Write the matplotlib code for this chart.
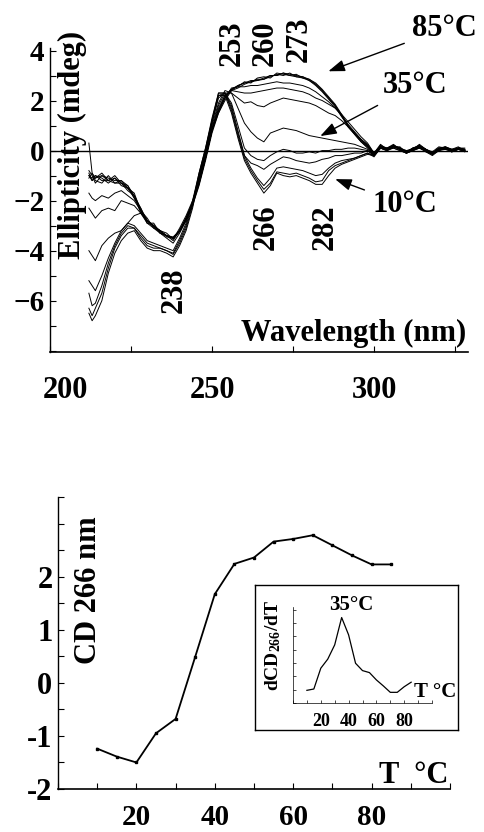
import matplotlib
matplotlib.use("Agg")
import matplotlib.pyplot as plt
from matplotlib.ticker import MultipleLocator
from matplotlib.transforms import ScaledTranslation

plt.rcParams['font.family'] = ['Liberation Serif', 'DejaVu Serif']
plt.rcParams['font.weight'] = 'bold'
plt.rcParams['mathtext.fontset'] = 'custom'
plt.rcParams['mathtext.rm'] = 'Liberation Serif:bold'
plt.rcParams['mathtext.bf'] = 'Liberation Serif:bold'
plt.rcParams['mathtext.default'] = 'bf'

# CD spectra, wavelength grid (nm)
wl = [212, 213, 214, 216, 218, 220, 222, 224, 226, 228,
      230, 232, 234, 236, 238, 240, 242, 244, 246, 248,
      250, 252, 254, 256, 258, 260, 262, 264, 266, 268,
      270, 272, 274, 276, 278, 280, 282, 284, 286, 288,
      290, 292, 294, 296, 298, 300, 302, 304, 306, 308,
      310, 312, 314, 316, 318, 320, 322, 324, 326, 328]

cd85 = [0.3, -0.9, -1.1, -0.9, -1.2, -1.0, -1.3, -1.4, -1.8, -2.3,
        -2.8, -3.0, -3.2, -3.4, -3.5, -3.2, -2.7, -2.1, -1.3, -0.3,
        0.8, 1.5, 2.0, 2.4, 2.6, 2.7, 2.8, 2.8, 2.9, 3.0,
        3.0, 3.1, 3.05, 3.0, 2.95, 2.85, 2.65, 2.4, 2.1, 1.8,
        1.4, 0.95, 0.65, 0.35, 0.15, -0.15, 0.2, 0.05, 0.2, 0.1,
        -0.05, 0.1, 0.2, 0.0, -0.1, 0.1, 0.15, 0.0, 0.1, 0.05]
cd75 = [-0.8, -1.0, -1.3, -1.0, -1.1, -1.2, -1.2, -1.5, -1.7, -2.4,
        -2.7, -3.1, -3.2, -3.3, -3.55, -3.1, -2.6, -2.0, -1.2, -0.2,
        0.9, 1.6, 2.1, 2.4, 2.5, 2.65, 2.75, 2.85, 2.85, 2.95,
        3.05, 3.0, 3.1, 2.95, 2.9, 2.8, 2.6, 2.35, 2.05, 1.75,
        1.35, 1.0, 0.7, 0.4, 0.2, -0.2, 0.15, 0.1, 0.25, 0.05,
        0.0, 0.05, 0.25, 0.05, -0.15, 0.05, 0.1, 0.05, 0.15, 0.0]
cd65 = [-1.0, -1.2, -1.0, -1.1, -1.3, -1.1, -1.4, -1.5, -1.9, -2.3,
        -2.9, -2.9, -3.3, -3.4, -3.45, -3.2, -2.8, -2.2, -1.4, -0.4,
        0.7, 1.5, 2.1, 2.5, 2.55, 2.75, 2.7, 2.9, 2.95, 2.9,
        3.1, 3.05, 3.0, 3.05, 2.9, 2.85, 2.7, 2.45, 2.15, 1.85,
        1.45, 1.0, 0.7, 0.4, 0.15, -0.1, 0.25, 0.05, 0.15, 0.15,
        -0.1, 0.1, 0.15, 0.05, -0.05, 0.15, 0.1, -0.05, 0.1, 0.1]
cd55 = [-1.1, -0.9, -1.2, -1.3, -1.0, -1.3, -1.3, -1.6, -1.8, -2.5,
        -2.8, -3.05, -3.2, -3.45, -3.5, -3.25, -2.75, -2.15, -1.35, -0.3,
        0.8, 1.6, 2.2, 2.45, 2.6, 2.7, 2.75, 2.8, 2.85, 3.0,
        3.0, 3.1, 3.0, 2.95, 2.95, 2.8, 2.65, 2.4, 2.1, 1.8,
        1.4, 0.95, 0.65, 0.35, 0.1, -0.2, 0.2, 0.1, 0.2, 0.1,
        -0.05, 0.05, 0.2, 0.0, -0.1, 0.05, 0.15, 0.05, 0.05, 0.0]
cd50 = [-1.0, -1.1, -1.0, -1.2, -1.2, -1.1, -1.3, -1.5, -1.8, -2.4,
        -2.8, -3.0, -3.3, -3.4, -3.5, -3.2, -2.7, -2.1, -1.3, -0.3,
        0.8, 1.6, 2.1, 2.45, 2.55, 2.55, 2.6, 2.6, 2.65, 2.7,
        2.75, 2.7, 2.7, 2.65, 2.6, 2.5, 2.35, 2.15, 1.95, 1.7,
        1.4, 1.05, 0.75, 0.45, 0.25, -0.1, 0.15, 0.1, 0.2, 0.05,
        -0.05, 0.1, 0.2, 0.05, -0.1, 0.1, 0.1, 0.0, 0.1, 0.05]
cd45 = [-0.9, -1.2, -1.1, -1.0, -1.2, -1.3, -1.2, -1.4, -1.9, -2.4,
        -2.9, -3.0, -3.25, -3.4, -3.5, -3.2, -2.7, -2.1, -1.3, -0.3,
        0.8, 1.7, 2.2, 2.4, 2.35, 2.3, 2.3, 2.35, 2.4, 2.45,
        2.5, 2.5, 2.45, 2.4, 2.35, 2.25, 2.1, 2.0, 1.85, 1.7,
        1.45, 1.15, 0.85, 0.55, 0.3, -0.1, 0.2, 0.05, 0.15, 0.1,
        0.0, 0.05, 0.2, 0.05, -0.1, 0.05, 0.15, 0.05, 0.1, 0.0]
cd40 = [-1.7, -1.9, -2.0, -1.8, -1.9, -1.7, -1.6, -1.8, -2.0, -2.4,
        -2.8, -3.0, -3.2, -3.4, -3.5, -3.2, -2.7, -2.1, -1.2, -0.2,
        0.9, 1.8, 2.3, 2.3, 2.1, 1.9, 1.95, 1.8, 1.75, 1.9,
        2.0, 2.1, 2.05, 2.0, 1.95, 1.9, 1.8, 1.65, 1.5, 1.4,
        1.2, 0.95, 0.7, 0.45, 0.2, -0.1, 0.15, 0.05, 0.2, 0.05,
        -0.05, 0.1, 0.15, 0.0, -0.1, 0.05, 0.1, 0.0, 0.1, 0.05]
cd35 = [-2.3, -2.5, -2.7, -2.4, -2.3, -2.4, -2.0, -2.1, -2.2, -2.5,
        -2.8, -3.0, -3.3, -3.4, -3.6, -3.2, -2.7, -2.1, -1.1, -0.1,
        1.0, 1.9, 2.4, 2.3, 1.7, 1.1, 0.75, 0.5, 0.35, 0.7,
        0.8, 0.9, 0.85, 0.8, 0.7, 0.6, 0.55, 0.5, 0.45, 0.4,
        0.35, 0.3, 0.25, 0.15, 0.05, -0.15, 0.15, 0.05, 0.15, 0.1,
        -0.05, 0.05, 0.2, 0.05, -0.1, 0.1, 0.1, 0.0, 0.05, 0.05]
cd30 = [-4.0, -4.2, -4.4, -3.8, -3.5, -3.3, -3.2, -2.9, -2.6, -2.5,
        -2.9, -3.1, -3.3, -3.5, -3.7, -3.3, -2.8, -2.1, -1.0, 0.0,
        1.1, 2.1, 2.3, 1.9, 1.0, 0.1, -0.2, -0.35, -0.4, -0.2,
        -0.05, 0.05, 0.0, -0.1, -0.1, -0.05, -0.1, 0.0, 0.0, 0.05,
        0.05, 0.1, 0.1, 0.05, 0.0, -0.2, 0.15, 0.05, 0.2, 0.05,
        -0.1, 0.05, 0.15, 0.0, -0.15, 0.05, 0.1, 0.0, 0.1, 0.0]
cd25 = [-5.2, -5.4, -5.6, -5.0, -4.3, -3.7, -3.2, -2.9, -3.0, -3.3,
        -3.6, -3.7, -3.8, -3.9, -4.0, -3.5, -2.9, -2.0, -0.9, 0.1,
        1.2, 2.2, 2.3, 1.8, 0.8, -0.2, -0.5, -0.6, -0.75, -0.55,
        -0.4, -0.25, -0.3, -0.4, -0.45, -0.5, -0.45, -0.35, -0.3, -0.2,
        -0.2, -0.15, -0.1, -0.1, 0.0, -0.2, 0.1, 0.0, 0.15, 0.05,
        -0.1, 0.0, 0.15, -0.05, -0.15, 0.0, 0.1, -0.05, 0.05, 0.0]
cd20 = [-5.7, -6.2, -6.1, -5.4, -4.5, -3.8, -3.3, -3.0, -3.1, -3.4,
        -3.7, -3.8, -3.9, -4.0, -4.1, -3.6, -3.0, -2.1, -0.9, 0.1,
        1.3, 2.3, 2.3, 1.7, 0.7, -0.2, -0.7, -1.1, -1.4, -1.1,
        -0.7, -0.65, -0.7, -0.75, -0.8, -0.9, -1.0, -0.95, -0.7, -0.5,
        -0.4, -0.35, -0.3, -0.2, -0.1, -0.25, 0.1, 0.0, 0.1, 0.0,
        -0.1, 0.0, 0.1, -0.05, -0.2, 0.0, 0.05, -0.05, 0.05, -0.05]
cd15 = [-6.3, -6.6, -6.3, -5.7, -4.7, -3.9, -3.4, -3.1, -3.1, -3.5,
        -3.8, -3.9, -3.9, -4.0, -4.15, -3.7, -3.1, -2.2, -1.0, 0.0,
        1.2, 2.3, 2.3, 1.6, 0.6, -0.3, -0.8, -1.2, -1.55, -1.3,
        -0.85, -0.9, -0.95, -0.9, -1.0, -1.1, -1.25, -1.2, -0.8, -0.6,
        -0.5, -0.4, -0.3, -0.2, -0.1, -0.2, 0.1, 0.05, 0.1, 0.0,
        -0.1, 0.0, 0.1, 0.0, -0.15, 0.0, 0.1, -0.05, 0.05, 0.0]
cd10 = [-6.5, -6.8, -6.6, -6.0, -4.9, -4.1, -3.6, -3.3, -3.2, -3.6,
        -3.9, -4.0, -4.0, -4.1, -4.25, -3.8, -3.2, -2.3, -1.1, -0.1,
        1.1, 2.2, 2.2, 1.5, 0.5, -0.4, -0.9, -1.3, -1.7, -1.4,
        -0.9, -1.0, -1.05, -1.0, -1.1, -1.2, -1.35, -1.35, -1.0, -0.7,
        -0.55, -0.45, -0.35, -0.25, -0.15, -0.2, 0.1, 0.0, 0.15, 0.05,
        -0.1, 0.05, 0.1, 0.0, -0.1, 0.05, 0.05, 0.0, 0.05, 0.0]

spectra = [cd10, cd15, cd20, cd25, cd30, cd35, cd40, cd45, cd50, cd55, cd65, cd75, cd85]

# melting curve at 266 nm
temp = [10, 15, 20, 25, 30, 35, 40, 45, 50, 55, 60, 65, 70, 75, 80, 85]
cd266 = [-1.24, -1.39, -1.50, -0.95, -0.68, 0.49, 1.67, 2.24, 2.36, 2.66,
         2.71, 2.78, 2.59, 2.40, 2.23, 2.23]
# derivative (inset, arbitrary units)
dcd266 = [0.95, 1.05, 2.61, 3.29, 4.36, 6.41, 5.11, 2.98, 2.43, 2.28,
          1.73, 1.28, 0.80, 0.80, 1.22, 1.56]

W, H = 484, 832
fig = plt.figure(figsize=(W / 100, H / 100), dpi=100)

def rect(l, t, r, b):
    return [l / W, (H - b) / H, (r - l) / W, (b - t) / H]

# ---------------- top panel ----------------
ax = fig.add_axes(rect(50, 48, 468, 352))
for s in spectra:
    ax.plot(wl, s, color='black', lw=0.7)
ax.axhline(0, color='black', lw=1.0)
ax.set_xlim(200, 329)
ax.set_ylim(-8.05, 4.1)
ax.spines['top'].set_visible(False)
ax.spines['right'].set_visible(False)
ax.spines['left'].set_linewidth(1.0)
ax.spines['bottom'].set_linewidth(1.2)
ax.set_yticks([-6, -4, -2, 0, 2, 4])
ax.yaxis.set_minor_locator(MultipleLocator(1))
ax.set_xticks([200, 250, 300])
ax.xaxis.set_minor_locator(MultipleLocator(25))
ax.tick_params(which='both', direction='in', length=4, width=0.8)
ax.tick_params(axis='y', labelsize=21, pad=4)
ax.tick_params(axis='x', labelsize=22, pad=17)
for lab in ax.get_xticklabels() + ax.get_yticklabels():
    lab.set_fontweight('bold')
ax.get_xticklabels()[0].set_transform(
    ax.get_xticklabels()[0].get_transform() + ScaledTranslation(0.15, 0, fig.dpi_scale_trans))

ax.text(0.053, 0.68, 'Ellipticity (mdeg)', transform=ax.transAxes, rotation=90,
        ha='center', va='center', fontsize=22, fontweight='bold')
ax.text(0.995, 0.062, 'Wavelength (nm)', transform=ax.transAxes,
        ha='right', va='center', fontsize=22, fontweight='bold')

peaks = [('253', 256.1, 4.28), ('260', 266.3, 4.28), ('273', 277.0, 4.44),
         ('266', 266.6, -3.05), ('282', 285.0, -3.05), ('238', 238.3, -5.6)]
for txt, x, y in peaks:
    ax.text(x, y, txt, rotation=90, ha='center', va='center', fontsize=22,
            fontweight='bold', clip_on=False)

arrows = [('85°C', (285.9, 3.17), (321.8, 4.88)),
          ('35°C', (283.4, 0.58), (312.6, 2.6)),
          ('10°C', (288.0, -1.14), (309.5, -2.17))]
for txt, tip, pos in arrows:
    ax.annotate(txt, xy=tip, xytext=pos, ha='center', va='center', fontsize=22,
                fontweight='bold', annotation_clip=False,
                arrowprops=dict(arrowstyle='-|>,head_length=0.45,head_width=0.16',
                                color='black', lw=1.0, shrinkA=4, shrinkB=0))

# ---------------- bottom panel ----------------
bx = fig.add_axes(rect(58, 497, 450, 789))
bx.plot(temp, cd266, color='black', lw=1.3, marker='s', ms=2)
bx.set_xlim(0, 100)
bx.set_ylim(-2, 3.5)
bx.spines['top'].set_visible(False)
bx.spines['right'].set_visible(False)
bx.spines['left'].set_linewidth(1.0)
bx.spines['bottom'].set_linewidth(1.2)
bx.set_yticks([-2, -1, 0, 1, 2, 3])
bx.set_yticklabels(['-2', '-1', '0', '1', '2', ''])
bx.yaxis.set_minor_locator(MultipleLocator(0.5))
bx.set_xticks([20, 40, 60, 80])
bx.xaxis.set_minor_locator(MultipleLocator(10))
bx.tick_params(which='both', direction='in', length=4, width=0.8)
bx.tick_params(axis='y', labelsize=22, pad=4)
bx.tick_params(axis='x', labelsize=21, pad=11)
for lab in bx.get_xticklabels() + bx.get_yticklabels():
    lab.set_fontweight('bold')
bx.text(0.077, 0.68, 'CD 266 nm', transform=bx.transAxes, rotation=90,
        ha='center', va='center', fontsize=22, fontweight='bold')
bx.text(0.908, 0.045, 'T  °C', transform=bx.transAxes,
        ha='center', va='center', fontsize=22, fontweight='bold')

# inset frame
fx = fig.add_axes(rect(255, 585, 458, 730))
fx.set_xticks([])
fx.set_yticks([])
for sp in fx.spines.values():
    sp.set_linewidth(1.0)

ix = fig.add_axes(rect(293, 607, 432, 703))
ix.patch.set_alpha(0)
ix.plot(temp, dcd266, color='black', lw=0.9)
ix.set_xlim(0, 100)
ix.set_ylim(0, 7.2)
ix.spines['top'].set_visible(False)
ix.spines['right'].set_visible(False)
ix.spines['left'].set_linewidth(0.5)
ix.spines['bottom'].set_linewidth(0.5)
ix.set_xticks([20, 40, 60, 80])
ix.xaxis.set_minor_locator(MultipleLocator(10))
ix.yaxis.set_major_locator(MultipleLocator(1))
ix.set_yticklabels([])
ix.tick_params(which='both', direction='in', length=2, width=0.5)
ix.tick_params(axis='x', labelsize=13, pad=7)
for lab in ix.get_xticklabels():
    lab.set_fontweight('bold')
ix.text(0.417, 1.02, '35°C', transform=ix.transAxes, ha='center', va='center',
        fontsize=15, fontweight='bold')
ix.text(1.02, 0.115, 'T °C', transform=ix.transAxes, ha='center', va='center',
        fontsize=15, fontweight='bold')
ix.text(-0.144, 0.6, r'dCD$_{266}$/dT', transform=ix.transAxes, rotation=90,
        ha='center', va='center', fontsize=14, fontweight='bold')

fig.savefig('out.png', dpi=100)
